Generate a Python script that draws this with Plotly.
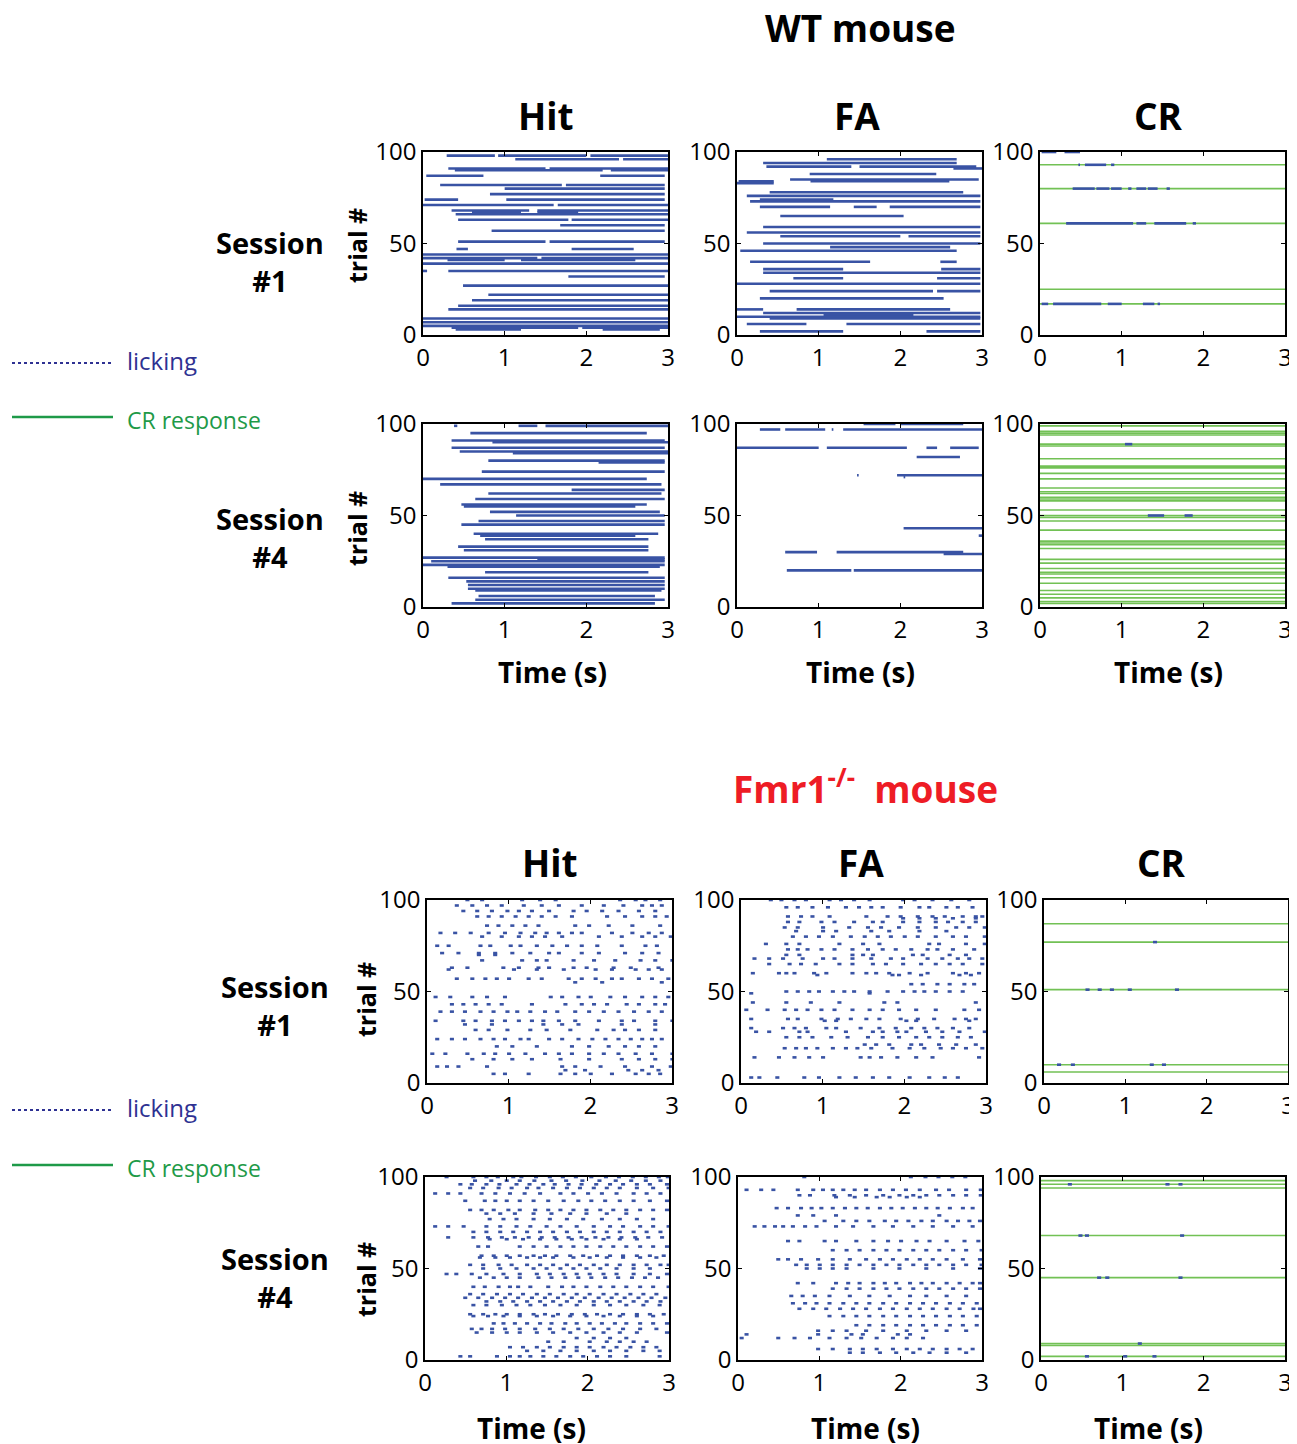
import plotly.graph_objects as go

# ---------------- DATA ----------------
TIME_TICKS = [0, 1, 2, 3]
TRIAL_TICKS = [0, 50, 100]
CONDITIONS = ["Hit", "FA", "CR"]
SESSIONS = ["Session<br>#1", "Session<br>#4"]
MICE = ["WT mouse", "Fmr1<sup>-/-</sup>  mouse"]
LICK_DUR = 0.05  # duration of one lick (s) in the Fmr1 rasters

# WT mouse: licking bouts as [trial, start (s), end (s)]
WT_S1_HIT = [
    [98, 0.29, 0.88], [98, 0.92, 2.0], [98, 2.05, 3.0], [96, 1.13, 2.4], [96, 2.45, 3.0],
    [91, 0.31, 1.5], [91, 1.55, 3.0], [90, 0.39, 2.2], [90, 2.3, 3.0], [87, 0.04, 0.74], [87, 2.17, 2.96],
    [82, 0.21, 1.7], [82, 1.75, 2.96], [80, 1.0, 2.96], [77, 0.82, 2.96], [74, 0.02, 0.43], [74, 1.02, 2.96],
    [71, 0.0, 1.6], [71, 1.65, 3.0], [68, 0.35, 1.3], [68, 1.4, 3.0], [67, 0.6, 1.2], [67, 1.4, 1.9],
    [66, 0.4, 3.0], [63, 0.43, 1.78], [63, 1.82, 3.0], [60, 1.68, 2.96], [57, 0.84, 2.96],
    [51, 0.43, 1.5], [51, 1.55, 2.96], [47, 0.41, 0.55], [47, 1.82, 2.58], [44, 0.0, 3.0],
    [42, 0.0, 1.4], [42, 1.45, 3.0], [41, 0.3, 1.0], [41, 1.2, 2.6], [39, 0.0, 3.0], [35, 0.0, 0.05], [35, 0.31, 3.0],
    [32, 1.78, 2.96], [27, 0.49, 3.0], [22, 0.8, 3.0], [19, 0.6, 3.0], [16, 0.43, 3.0], [14, 0.31, 3.0],
    [9, 0.0, 3.0], [7, 0.0, 3.0], [5, 0.0, 3.0], [4, 0.35, 1.9], [4, 1.95, 3.0], [3, 0.4, 1.2], [3, 2.2, 2.9],
]
WT_S1_FA = [
    [96, 1.1, 2.69], [94, 0.32, 2.69], [92, 0.36, 1.4], [92, 1.5, 2.93], [91, 2.65, 3.0], [88, 0.89, 2.44],
    [85, 0.65, 2.96], [84, 0.02, 0.45], [84, 0.9, 2.6], [83, 0.0, 0.45], [78, 0.4, 2.77], [76, 0.12, 2.98],
    [74, 0.28, 1.18], [73, 0.16, 2.98], [70, 0.28, 1.14], [70, 1.43, 1.71], [70, 1.87, 2.98], [65, 0.53, 2.04],
    [59, 0.32, 2.98], [56, 0.12, 2.98], [54, 0.53, 2.0], [54, 2.1, 2.98], [50, 0.32, 2.98], [48, 1.14, 2.61],
    [46, 0.04, 2.69], [40, 0.16, 1.63], [40, 2.49, 2.69], [36, 0.32, 1.3], [36, 2.5, 2.98], [34, 0.32, 2.98],
    [31, 0.69, 1.3], [31, 2.45, 2.98], [28, 0.0, 2.98], [24, 0.4, 2.4], [24, 2.45, 2.98], [20, 0.28, 2.53],
    [14, 0.0, 0.32], [14, 0.73, 2.61], [12, 0.32, 2.98], [11, 1.06, 2.16], [10, 0.0, 2.98], [9, 0.4, 2.98],
    [6, 0.12, 0.85], [6, 1.34, 2.98], [2, 0.28, 1.3], [2, 2.32, 2.98],
]
WT_S1_CR_TRIALS = [93, 80, 61, 25, 17]
WT_S1_CR_LICKS = [
    [100, 0.02, 0.2], [100, 0.3, 0.49], [93, 0.47, 0.49], [93, 0.55, 0.81], [93, 0.87, 0.91],
    [80, 0.40, 0.67], [80, 0.69, 0.85], [80, 0.87, 1.0], [80, 1.08, 1.12], [80, 1.18, 1.30], [80, 1.32, 1.44], [80, 1.55, 1.59],
    [61, 0.32, 1.14], [61, 1.18, 1.30], [61, 1.40, 1.79], [61, 1.87, 1.91],
    [17, 0.02, 0.1], [17, 0.16, 0.75], [17, 0.83, 1.0], [17, 1.26, 1.40], [17, 1.44, 1.47],
]
WT_S4_HIT = [
    [99, 0.38, 0.42], [99, 1.17, 1.4], [99, 1.5, 3.0], [95, 0.58, 2.74], [91, 0.35, 2.96], [90, 0.85, 3.0],
    [87, 0.35, 2.96], [85, 0.45, 3.0], [84, 1.1, 3.0], [80, 0.8, 2.96], [79, 2.15, 2.96], [74, 0.72, 2.96],
    [70, 0.0, 2.74], [67, 0.21, 2.92], [64, 1.82, 2.96], [62, 0.8, 2.92], [59, 0.64, 2.96], [56, 0.47, 2.74],
    [55, 0.5, 2.6], [52, 0.82, 2.9], [50, 1.14, 2.96], [47, 0.68, 2.96], [45, 0.47, 2.96], [40, 0.62, 2.88],
    [39, 0.7, 2.6], [37, 0.76, 2.76], [33, 0.43, 2.76], [31, 0.5, 2.76], [27, 0.0, 2.96], [26, 1.4, 2.96],
    [25, 0.1, 2.96], [23, 0.0, 2.96], [22, 0.3, 2.9], [19, 0.76, 2.76], [16, 0.31, 2.96], [14, 0.53, 2.96],
    [12, 0.55, 2.96], [10, 0.55, 2.96], [9, 0.64, 2.92], [6, 0.68, 2.84], [4, 0.64, 2.96], [2, 0.35, 2.84],
]
WT_S4_FA = [
    [100, 1.55, 1.94], [100, 2.0, 2.77], [97, 0.28, 0.53], [97, 0.59, 1.08], [97, 1.16, 1.18], [97, 1.30, 3.0],
    [87, 0.0, 1.0], [87, 1.1, 2.08], [87, 2.32, 2.45], [87, 2.61, 2.96], [82, 2.20, 2.73],
    [72, 1.47, 1.49], [72, 1.96, 3.0], [71, 2.04, 2.06], [43, 2.04, 3.0], [39, 2.96, 3.0],
    [30, 0.59, 0.98], [30, 1.22, 2.77], [29, 2.53, 3.0], [20, 0.61, 1.4], [20, 1.43, 3.0],
]
WT_S4_CR_TRIALS = [99, 96, 95, 94, 89, 88, 81, 77, 76, 73, 70, 65, 63, 62, 60, 59, 58, 53, 50, 49,
                   47, 42, 36, 35, 34, 32, 26, 24, 21, 19, 18, 16, 13, 9, 7, 5, 3, 2]
WT_S4_CR_LICKS = [[89, 1.04, 1.13], [50, 1.32, 1.52], [50, 1.77, 1.87]]

# Fmr1-/- mouse: lick onset times (s) per trial, {trial: [onsets]}
FMR_S1_HIT = {
    100: [0.47, 0.65, 1.14, 1.36, 1.55, 2.34, 2.53, 2.65, 2.83],
    97: [0.34, 0.53, 0.71, 0.89, 1.16, 1.38, 1.59, 1.87, 2.14, 2.38, 2.61, 2.73, 2.85],
    94: [0.42, 0.59, 0.77, 0.96, 1.10, 1.26, 1.47, 1.77, 1.93, 2.12, 2.32, 2.57, 2.77],
    91: [0.59, 0.73, 0.89, 1.06, 1.22, 1.38, 1.55, 1.75, 2.18, 2.40, 2.61, 2.77, 2.91],
    86: [0.71, 0.85, 1.02, 1.18, 1.34, 1.79, 1.96, 2.20, 2.49, 2.83],
    82: [0.14, 0.32, 0.51, 0.73, 0.93, 1.12, 1.30, 1.44, 1.59, 1.75, 1.87, 2.24, 2.49, 2.69, 2.85],
    80: [0.65, 0.89, 1.10, 1.26, 1.42, 1.63, 2.08, 2.36, 2.61, 2.77, 2.96],
    75: [0.10, 0.24, 0.63, 0.75, 1.00, 1.12, 1.32, 1.51, 1.69, 1.87, 2.06, 2.36, 2.65, 2.79],
    71: [0.16, 0.36, 0.61, 0.81, 1.02, 1.24, 1.47, 1.59, 1.87, 2.08, 2.40, 2.61, 2.81],
    70: [0.61, 0.81],
    67: [0.65, 1.14, 1.32, 1.44, 1.77, 2.02, 2.28, 2.59, 2.77, 2.98],
    63: [0.28, 0.47, 0.91, 1.10, 1.34, 1.47, 1.77, 1.93, 2.26, 2.47, 2.81],
    62: [0.24, 1.04, 1.32, 1.65, 2.04, 2.24, 2.53, 2.69, 2.85],
    57: [0.34, 0.53, 0.69, 0.83, 0.98, 1.22, 1.38, 1.71, 1.87, 2.04, 2.24, 2.36, 2.57, 2.73, 2.93],
    55: [1.79, 2.12, 2.85],
    47: [0.08, 0.26, 0.53, 0.71, 0.93, 1.49, 1.63, 1.83, 1.98, 2.22, 2.40, 2.61, 2.77, 2.93],
    43: [0.28, 0.42, 0.57, 0.73, 0.89, 1.26, 1.67, 1.87, 2.02, 2.18, 2.42, 2.57, 2.77, 2.89],
    39: [0.14, 0.28, 0.44, 0.63, 0.79, 0.96, 1.08, 1.24, 1.42, 1.57, 1.79, 1.96, 2.14, 2.32, 2.51, 2.69, 2.85],
    34: [0.08, 0.42, 0.57, 0.77, 0.93, 1.10, 1.26, 1.40, 1.59, 1.79, 2.08, 2.36, 2.51, 2.77, 2.98],
    32: [0.44, 0.77, 1.40, 1.63, 1.83, 2.36, 2.77],
    29: [0.57, 0.73, 0.96, 1.24, 1.44, 1.73, 2.06, 2.26, 2.40, 2.57, 2.77],
    24: [0.10, 0.28, 0.44, 0.63, 0.79, 0.93, 1.12, 1.22, 1.47, 1.63, 1.83, 2.00, 2.16, 2.32, 2.47, 2.61, 2.73, 2.85],
    20: [0.83, 1.02, 1.32, 1.75, 1.96, 2.20, 2.40, 2.57, 2.77],
    16: [0.04, 0.20, 0.47, 0.67, 0.81, 0.98, 1.18, 1.42, 1.59, 1.75, 1.96, 2.14, 2.32, 2.53, 2.73, 2.98],
    13: [0.53, 0.79, 1.02, 1.26, 1.61, 1.96, 2.36, 2.57, 2.77, 2.98],
    9: [0.10, 0.22, 0.36, 0.71, 1.63, 1.79, 2.10, 2.40, 2.73, 2.96],
    7: [1.67, 1.91, 2.44, 2.61, 2.81],
    5: [0.79, 0.93, 1.22, 1.61, 1.79, 1.98, 2.24, 2.53, 2.69, 2.83],
}
FMR_S1_FA = {
    100: [0.34, 0.47, 0.63, 0.77, 1.06, 1.20, 1.36, 1.55, 1.96, 2.10, 2.32, 2.55, 2.77],
    96: [0.53, 0.67, 0.85, 1.04, 1.26, 1.42, 1.57, 1.71, 1.93, 2.16, 2.28, 2.49, 2.63, 2.81],
    91: [0.55, 0.71, 0.85, 1.06, 1.51, 1.77, 1.93, 2.14, 2.32, 2.47, 2.69, 2.85, 2.93],
    90: [1.96, 2.16, 2.36, 2.57, 2.85],
    88: [0.55, 0.69, 0.96, 1.12, 1.36, 1.59, 1.71, 1.96, 2.16, 2.36, 2.51, 2.69, 2.85],
    85: [0.51, 0.67, 0.98, 1.30, 1.53, 1.69, 1.91, 2.14, 2.36, 2.61, 2.77, 2.96],
    83: [0.65, 0.98, 1.14, 1.57, 1.79, 2.16, 2.49],
    80: [0.61, 0.77, 0.93, 1.10, 1.32, 1.49, 1.65, 1.81, 1.98, 2.14, 2.36, 2.57, 2.73, 2.96],
    76: [0.28, 0.53, 0.69, 1.18, 1.47, 1.67, 2.28, 2.40, 2.73, 2.96],
    73: [0.55, 0.67, 0.79, 0.96, 1.12, 1.34, 1.53, 1.71, 1.87, 2.06, 2.26, 2.38, 2.57, 2.83],
    70: [0.53, 0.69, 1.34, 1.47, 1.59, 2.08, 2.20, 2.53, 2.73],
    68: [0.14, 0.32, 0.49, 0.73, 0.98, 1.12, 1.34, 1.57, 1.81, 1.96, 2.26, 2.44, 2.63, 2.77, 2.93],
    65: [0.32, 0.57, 0.71, 0.89, 1.18, 1.34, 1.59, 1.75, 1.96, 2.18, 2.36, 2.53, 2.69, 2.93],
    60: [0.12, 0.44, 0.53, 0.63, 0.87, 1.02, 1.34, 1.51, 1.63, 1.79, 2.04, 2.26, 2.57, 2.73, 2.89],
    59: [0.91, 1.83, 1.91, 2.18, 2.65, 2.79],
    54: [2.06, 2.20, 2.38, 2.53, 2.71, 2.83],
    50: [0.53, 0.67, 0.81, 0.93, 1.10, 1.24, 1.36, 1.55, 1.77, 1.96, 2.10, 2.22, 2.36, 2.53, 2.69],
    49: [0.10, 1.55],
    44: [0.12, 0.53, 0.83, 1.18, 1.73, 1.89, 2.85],
    40: [0.04, 0.30, 0.51, 0.65, 0.79, 0.96, 1.12, 1.34, 1.55, 1.71, 1.91, 2.12, 2.36, 2.71, 2.89],
    35: [0.10, 0.55, 0.67, 0.96, 1.16, 1.32, 1.51, 1.67, 1.93, 2.14, 2.34, 2.59, 2.73, 2.85],
    34: [1.00, 1.14, 2.00, 2.12, 2.77],
    30: [0.10, 0.49, 0.63, 0.77, 1.02, 1.14, 1.44, 1.67, 1.87, 2.06, 2.22, 2.38, 2.57, 2.77],
    28: [0.16, 0.32, 0.69, 0.79, 1.26, 1.59, 1.71, 1.89, 2.00, 2.24, 2.44, 2.65, 2.96],
    25: [0.53, 0.69, 0.85, 1.08, 1.28, 1.53, 1.71, 1.91, 2.12, 2.28, 2.44, 2.63, 2.79],
    21: [1.49, 1.63, 1.79, 2.06, 2.18, 2.40, 2.61, 2.85],
    19: [0.51, 0.65, 0.77, 0.91, 1.10, 1.26, 1.40, 1.57, 1.83, 2.04, 2.22, 2.42, 2.57, 2.73, 2.93],
    14: [0.14, 0.44, 0.63, 0.81, 0.98, 1.44, 1.55, 1.69, 1.89, 2.12, 2.32, 2.89],
    3: [0.10, 0.20, 0.42, 0.75, 0.93, 1.18, 1.38, 1.59, 1.79, 2.04, 2.28, 2.47, 2.63],
}
FMR_S1_CR_TRIALS = [87, 77, 51, 10, 6]
FMR_S1_CR_LICKS = {77: [1.34], 51: [0.51, 0.66, 0.81, 1.03, 1.61], 10: [0.16, 0.33, 1.30, 1.45]}
FMR_S4_HIT = {
    100: [0.24, 0.57, 0.73, 0.87, 1.06, 1.16, 1.34, 1.51, 1.67, 1.83, 2.02, 2.20, 2.36, 2.53, 2.69, 2.85, 2.96],
    98: [0.59, 0.79, 0.98, 1.14, 1.32, 1.53, 1.71, 1.91, 2.12, 2.32, 2.51, 2.69, 2.87],
    96: [0.41, 0.55, 0.73, 0.89, 1.10, 1.26, 1.43, 1.57, 1.74, 1.90, 2.08, 2.25, 2.41, 2.58, 2.74, 2.95],
    94: [0.53, 0.69, 0.88, 1.04, 1.23, 1.37, 1.55, 1.72, 1.88, 2.05, 2.21, 2.37, 2.58, 2.78, 2.97],
    91: [0.10, 0.26, 0.41, 0.67, 0.84, 1.02, 1.20, 1.39, 1.64, 1.80, 1.98, 2.15, 2.33, 2.54, 2.70, 2.87],
    87: [0.47, 0.71, 0.84, 0.98, 1.14, 1.31, 1.49, 1.68, 1.86, 2.02, 2.19, 2.37, 2.54, 2.74, 2.95],
    82: [0.53, 0.67, 0.82, 1.00, 1.14, 1.33, 1.49, 1.64, 1.80, 1.96, 2.13, 2.29, 2.45, 2.62, 2.78, 2.95],
    80: [0.73, 0.90, 1.08, 1.31, 1.53, 1.76, 1.96, 2.21, 2.45],
    77: [0.77, 0.94, 1.10, 1.31, 1.51, 1.72, 1.92, 2.15, 2.37, 2.58, 2.78],
    73: [0.10, 0.26, 0.45, 0.73, 0.90, 1.10, 1.27, 1.47, 1.64, 1.84, 2.05, 2.25, 2.41, 2.62, 2.78, 2.97],
    70: [0.57, 0.73, 0.90, 1.06, 1.23, 1.39, 1.55, 1.72, 1.88, 2.05, 2.21, 2.37, 2.54, 2.70, 2.87],
    67: [0.26, 0.57, 0.75, 0.92, 1.08, 1.25, 1.41, 1.57, 1.74, 1.90, 2.07, 2.23, 2.39, 2.56, 2.72, 2.89],
    66: [0.77, 0.98, 1.18, 1.39, 1.59, 1.78, 1.96, 2.17, 2.37, 2.58],
    62: [0.63, 0.75, 1.14, 1.31, 1.47, 1.64, 1.80, 1.96, 2.13, 2.29, 2.45, 2.62, 2.78, 2.95],
    57: [0.67, 0.82, 0.98, 1.14, 1.31, 1.45, 1.59, 1.76, 1.92, 2.09, 2.25, 2.41, 2.58, 2.74, 2.91],
    56: [0.65, 0.84, 1.02, 1.23, 1.39, 1.55, 1.80, 2.00, 2.21, 2.41, 2.62, 2.82],
    52: [0.53, 0.69, 0.88, 1.04, 1.23, 1.39, 1.55, 1.72, 1.88, 2.05, 2.21, 2.37, 2.54, 2.70, 2.87, 2.97],
    50: [0.69, 0.90, 1.10, 1.31, 1.47, 1.64, 1.80, 1.96, 2.13, 2.33, 2.54, 2.74],
    47: [0.24, 0.36, 0.55, 0.73, 0.94, 1.14, 1.35, 1.51, 1.68, 1.84, 2.00, 2.17, 2.33, 2.54, 2.74, 2.95],
    45: [0.65, 0.82, 0.98, 1.14, 1.37, 1.53, 1.70, 1.86, 2.02, 2.19, 2.35, 2.52, 2.68, 2.84],
    40: [0.57, 0.71, 0.88, 1.02, 1.12, 1.27, 1.49, 1.66, 1.80, 1.96, 2.13, 2.29, 2.45, 2.62, 2.78, 2.97],
    36: [0.53, 0.69, 0.86, 1.02, 1.18, 1.35, 1.51, 1.68, 1.84, 2.00, 2.17, 2.33, 2.50, 2.66, 2.82],
    34: [0.47, 0.63, 0.80, 0.96, 1.12, 1.29, 1.45, 1.61, 1.78, 1.94, 2.11, 2.27, 2.43, 2.60, 2.76, 2.93],
    32: [0.73, 0.90, 1.06, 1.23, 1.39, 1.55, 1.72, 1.88, 2.05, 2.21, 2.37, 2.54, 2.70, 2.87],
    30: [0.57, 0.73, 0.92, 1.10, 1.27, 1.45, 1.64, 1.84, 2.05, 2.25, 2.45, 2.66, 2.86],
    25: [0.53, 0.69, 0.84, 0.98, 1.14, 1.31, 1.45, 1.61, 1.78, 1.94, 2.09, 2.25, 2.41, 2.58, 2.74, 2.91],
    24: [0.57, 0.75, 0.94, 1.14, 1.35, 1.55, 1.76, 1.96, 2.17, 2.37, 2.58, 2.78],
    20: [0.82, 0.94, 1.08, 1.23, 1.39, 1.53, 1.70, 1.84, 2.00, 2.15, 2.31, 2.45, 2.62, 2.78, 2.95],
    17: [0.55, 0.67, 0.80, 0.96, 1.14, 1.33, 1.51, 1.68, 1.86, 2.05, 2.23, 2.41, 2.62, 2.82],
    15: [0.61, 0.80, 0.98, 1.14, 1.35, 1.55, 1.76, 1.96, 2.17, 2.37, 2.58, 2.95],
    12: [1.84, 2.05, 2.25, 2.45],
    10: [1.49, 1.68, 2.00, 2.21, 2.37, 2.54, 2.70],
    7: [1.02, 1.18, 1.35, 1.51, 1.68, 1.84, 2.00, 2.17, 2.33, 2.50, 2.66, 2.82],
    5: [1.23, 1.43, 1.64, 1.84, 2.05, 2.25, 2.45, 2.66, 2.86],
    2: [0.41, 0.53, 0.86, 1.02, 1.14, 1.27, 1.43, 1.59, 1.76, 1.92, 2.09, 2.25, 2.45, 2.86],
}
FMR_S4_FA = {
    100: [0.79, 2.10, 2.28, 2.44, 2.61, 2.77],
    93: [0.08, 0.26, 0.41, 0.71, 0.90, 1.02, 1.14, 1.27, 1.41, 1.55, 1.72, 1.88, 2.04, 2.21, 2.41, 2.57, 2.78, 2.96],
    90: [0.73, 0.86, 1.16, 1.35, 1.55, 1.76, 1.96, 2.13, 2.29, 2.45, 2.62, 2.78, 2.96],
    89: [1.18, 1.41, 1.68, 1.84, 2.05, 2.21],
    83: [0.45, 0.59, 0.75, 0.88, 1.00, 1.14, 1.29, 1.43, 1.57, 1.72, 1.86, 2.00, 2.15, 2.29, 2.43, 2.58, 2.74, 2.86],
    79: [0.71, 0.90, 1.18, 2.45],
    76: [1.04, 1.27, 1.43, 1.59, 1.78, 1.92, 2.07, 2.23, 2.37, 2.54, 2.68, 2.82, 2.95],
    73: [0.18, 0.30, 0.43, 0.53, 0.65, 0.80, 0.94, 1.18, 1.39, 1.64, 1.88, 2.13, 2.37, 2.62, 2.86],
    65: [0.59, 0.73, 1.04, 1.18, 1.43, 1.64, 1.82, 1.98, 2.17, 2.33, 2.54, 2.76, 2.93],
    60: [1.14, 1.31, 1.47, 1.64, 1.80, 1.96, 2.13, 2.29, 2.45, 2.62, 2.78, 2.97],
    55: [0.47, 0.59, 0.75, 0.96, 1.14, 1.35, 1.55, 1.72, 1.88, 2.05, 2.21, 2.37, 2.54, 2.74, 2.95],
    52: [0.69, 0.82, 0.98, 1.14, 1.31, 1.47, 1.64, 1.80, 1.96, 2.13, 2.29, 2.45, 2.62, 2.78, 2.97],
    50: [0.82, 0.98, 1.14, 1.31, 1.64, 1.96, 2.29, 2.62, 2.95],
    42: [0.71, 0.90, 1.18, 1.33, 1.47, 1.64, 1.78, 1.92, 2.09, 2.23, 2.37, 2.54, 2.70, 2.86, 2.95],
    39: [1.14, 1.31, 1.47, 1.64, 1.80, 1.96, 2.13, 2.29, 2.45, 2.62, 2.78, 2.95],
    35: [0.63, 0.77, 0.92, 1.10, 1.35, 1.59, 1.84, 2.09, 2.29, 2.54, 2.78],
    31: [0.65, 0.80, 0.94, 1.10, 1.27, 1.43, 1.59, 1.76, 1.92, 2.09, 2.25, 2.41, 2.58, 2.74, 2.91],
    28: [0.73, 0.90, 1.06, 1.23, 1.39, 1.55, 1.72, 1.88, 2.05, 2.21, 2.37, 2.54, 2.70, 2.87, 2.95],
    24: [1.10, 1.27, 1.43, 1.59, 1.76, 1.92, 2.09, 2.25, 2.41, 2.58, 2.74, 2.91],
    19: [1.43, 1.59, 1.76, 1.92, 2.09, 2.25, 2.41, 2.58, 2.74, 2.91],
    16: [0.96, 1.14, 1.31, 1.55, 1.76, 2.05, 2.29, 2.54, 2.78],
    14: [0.08, 0.96, 1.37, 1.51, 1.94, 2.09],
    12: [0.02, 0.47, 0.67, 0.86, 1.10, 1.31, 1.49, 1.68, 1.88, 2.05, 2.25],
    6: [0.96, 1.14, 1.35, 1.51, 1.68, 1.88, 2.05, 2.21, 2.37, 2.54, 2.70, 2.86],
    4: [1.35, 1.51, 1.72, 1.92, 2.13, 2.33, 2.54, 2.78],
}
FMR_S4_CR_TRIALS = [98, 96, 94, 68, 45, 9, 8, 2]
FMR_S4_CR_LICKS = {96: [0.33, 1.53, 1.69], 68: [0.46, 0.54, 1.71], 45: [0.69, 0.79, 1.69],
                   9: [1.19], 2: [0.54, 1.01, 1.37]}

# ---------------- STYLE / LAYOUT ----------------
W, H = 1297, 1444
OFF = 8  # page body margin compensation (px)
FONT = "Open Sans"
BLUE = "#3953a4"
GREEN = "#72c155"
NAVY = "#2e3192"
DKGREEN = "#1e9a48"

# panel boxes in pixels of the final picture: (left, top, right, bottom)
BOXES = [
    [(423, 152, 668, 335), (737, 152, 982, 335), (1040, 152, 1285, 335)],
    [(423, 424, 668, 607), (737, 424, 982, 607), (1040, 424, 1285, 607)],
    [(427, 900, 672, 1083), (741, 900, 986, 1083), (1044, 900, 1288, 1083)],
    [(425, 1177, 669, 1360), (738, 1177, 982, 1360), (1041, 1177, 1285, 1360)],
]


def px(xp):
    return (xp - OFF) / W


def py(yp):
    return 1 - (yp - OFF) / H


def seg_xy(segs):
    xs, ys = [], []
    for tr, a, b in segs:
        xs += [a, b, None]
        ys += [tr, tr, None]
    return xs, ys


def lick_xy(rows):
    xs, ys = [], []
    for tr, ons in rows.items():
        for o in ons:
            xs += [o, o + LICK_DUR, None]
            ys += [tr, tr, None]
    return xs, ys


def cr_xy(trials):
    xs, ys = [], []
    for tr in trials:
        xs += [TIME_TICKS[0], TIME_TICKS[-1], None]
        ys += [tr, tr, None]
    return xs, ys


fig = go.Figure()

panels = [
    [("seg", WT_S1_HIT), ("seg", WT_S1_FA), ("cr_seg", WT_S1_CR_TRIALS, WT_S1_CR_LICKS)],
    [("seg", WT_S4_HIT), ("seg", WT_S4_FA), ("cr_seg", WT_S4_CR_TRIALS, WT_S4_CR_LICKS)],
    [("lick", FMR_S1_HIT), ("lick", FMR_S1_FA), ("cr_lick", FMR_S1_CR_TRIALS, FMR_S1_CR_LICKS)],
    [("lick", FMR_S4_HIT), ("lick", FMR_S4_FA), ("cr_lick", FMR_S4_CR_TRIALS, FMR_S4_CR_LICKS)],
]

idx = 0
for r, row in enumerate(panels):
    for c, spec in enumerate(row):
        idx += 1
        xa = "x" if idx == 1 else f"x{idx}"
        ya = "y" if idx == 1 else f"y{idx}"
        l, t, rr, b = BOXES[r][c]
        axis_common = dict(showline=True, mirror="allticks", linecolor="black", linewidth=1.5,
                           ticks="inside", ticklen=4, tickwidth=1, tickcolor="black",
                           showgrid=False, zeroline=False, automargin=False,
                           tickfont=dict(family=FONT, size=24, color="black"))
        fig.layout[f"xaxis{'' if idx == 1 else idx}"] = dict(
            domain=[px(l), px(rr)], range=[0, 3], tickvals=TIME_TICKS, anchor=ya, **axis_common)
        fig.layout[f"yaxis{'' if idx == 1 else idx}"] = dict(
            domain=[py(b), py(t)], range=[0, 100], tickvals=TRIAL_TICKS, anchor=xa, **axis_common)
        kind = spec[0]
        if kind.startswith("cr"):
            gx, gy = cr_xy(spec[1])
            fig.add_trace(go.Scatter(x=gx, y=gy, mode="lines", line=dict(color=GREEN, width=1.6),
                                     xaxis=xa, yaxis=ya, showlegend=False, hoverinfo="skip"))
            bx, by = seg_xy(spec[2]) if kind == "cr_seg" else lick_xy(spec[2])
            fig.add_trace(go.Scatter(x=bx, y=by, mode="lines", line=dict(color=BLUE, width=2.6),
                                     xaxis=xa, yaxis=ya, showlegend=False, hoverinfo="skip"))
        else:
            bx, by = seg_xy(spec[1]) if kind == "seg" else lick_xy(spec[1])
            fig.add_trace(go.Scatter(x=bx, y=by, mode="lines", line=dict(color=BLUE, width=2.6),
                                     xaxis=xa, yaxis=ya, showlegend=False, hoverinfo="skip"))

ann = []


def txt(text, xp, yp, size, color="black", bold=True, angle=0, xanchor="center"):
    ann.append(dict(text=f"<b>{text}</b>" if bold else text, x=px(xp), y=py(yp),
                    xref="paper", yref="paper", showarrow=False, xanchor=xanchor, yanchor="middle",
                    textangle=angle, font=dict(family=FONT, size=size, color=color)))


# mouse titles
txt(MICE[0], 860, 28, 37)
txt(MICE[1], 865, 786, 37, color="#ee1c25")
# condition titles
for ty, xs in [(115, [546, 857, 1158]), (862, [550, 861, 1161])]:
    for c, name in enumerate(CONDITIONS):
        txt(name, xs[c], ty, 37)
# session labels and trial # labels
for r, (sx, sy, tx, tyy) in enumerate([(270, 261, 357, 245), (270, 538, 357, 528),
                                       (275, 1006, 366, 1000), (275, 1277, 366, 1280)]):
    txt(SESSIONS[r % 2], sx, sy, 29)
    txt("trial #", tx, tyy, 25, angle=-90)
# Time labels
for ty, xs in [(672, [552, 860, 1168]), (1428, [531, 865, 1148])]:
    for c in range(3):
        txt("Time (s)", xs[c], ty, 28)

shapes = []
for ly_lick, ly_cr in [(363, 417), (1110, 1165)]:
    shapes.append(dict(type="line", xref="paper", yref="paper", x0=px(12), x1=px(113),
                       y0=py(ly_lick), y1=py(ly_lick), line=dict(color=NAVY, width=2, dash="dot")))
    shapes.append(dict(type="line", xref="paper", yref="paper", x0=px(12), x1=px(113),
                       y0=py(ly_cr), y1=py(ly_cr), line=dict(color=DKGREEN, width=2.5)))
    txt("licking", 125, ly_lick - 3, 24, color=NAVY, bold=False, xanchor="left")
    txt("CR response", 125, ly_cr + 3, 23, color=DKGREEN, bold=False, xanchor="left")

fig.update_layout(width=W, height=H, margin=dict(l=0, r=0, t=0, b=0, autoexpand=False),
                  paper_bgcolor="white", plot_bgcolor="white",
                  annotations=ann, shapes=shapes, showlegend=False)

fig.write_html("out.html")
